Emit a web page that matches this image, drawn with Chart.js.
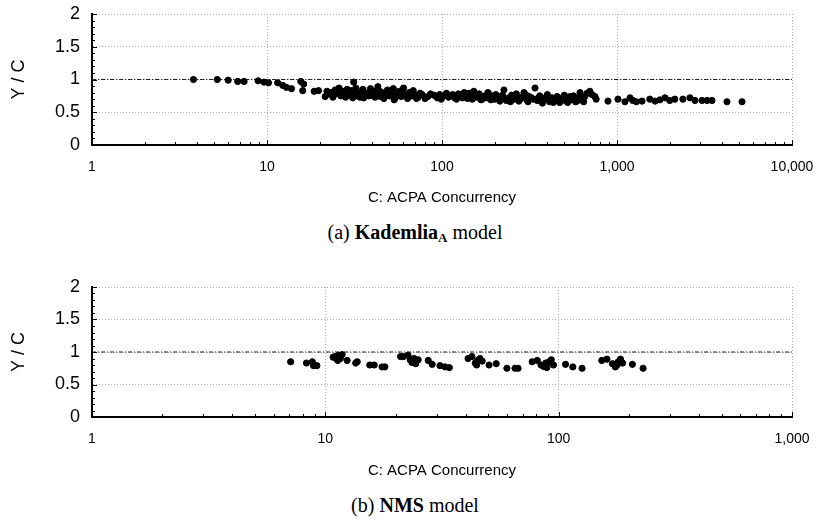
<!DOCTYPE html>
<html>
<head>
<meta charset="utf-8">
<script src="https://cdn.jsdelivr.net/npm/chart.js@4.4.0/dist/chart.umd.min.js"></script>
<style>
  body { margin: 0; background: #fff; width: 824px; height: 529px; position: relative; overflow: hidden; }
  canvas { position: absolute; left: 0; }
  .caption { position: absolute; left: 0; width: 830px; text-align: center; font-family: "Liberation Serif", serif; font-size: 20px; color: #000; }
  .caption sub { font-size: 13px; vertical-align: -3px; }
</style>
</head>
<body>
<div id="wrapA" style="position:absolute;left:0;top:0;width:824px;height:210px"><canvas id="chartA"></canvas></div>
<div class="caption" style="top:221px">(a) <b>Kademlia<sub>A</sub></b> model</div>
<div id="wrapB" style="position:absolute;left:0;top:273px;width:824px;height:210px"><canvas id="chartB"></canvas></div>
<div class="caption" style="top:494px">(b) <b>NMS</b> model</div>
<script>
// Kademlia_A model: concurrency vs Y/C
const kadX = [3.8, 5.2, 6.0, 6.8, 7.4, 8.9, 9.6, 10.2, 11.5, 12.3, 12.9, 13.8, 15.6, 16.2, 16.0, 18.6, 19.7,
  21.5, 22.5, 23.3, 24.0, 24.5, 25.2, 25.8, 26.4, 27.0, 27.6, 28.1, 28.7, 29.2, 29.8, 30.3, 30.9, 31.3, 31.6, 32.2, 32.8,
  33.4, 34.0, 34.6, 35.3, 36.0, 37.5, 39.0, 39.8, 40.6, 41.4, 42.2, 43.0, 44.5, 45.5, 46.5, 47.6, 48.8, 50.0, 51.3, 52.7,
  54.0, 55.5, 57.0, 58.6, 60.3, 61.9, 63.5, 65.0, 66.8, 68.5,
  70, 73, 77, 83, 90, 94, 97, 101, 106, 112, 118, 124, 128, 134, 140, 146, 152, 157, 163, 170, 176, 183, 190, 196, 203,
  210, 218, 226, 233, 241, 250, 258, 266, 275, 285, 294, 305, 315,
  325, 340, 350, 362, 375, 388, 400, 412, 425, 440, 455, 470, 485, 500, 515, 530, 548, 565, 580, 598, 615, 635, 655, 675, 700, 720,
  748, 760, 888, 1013, 1110, 1187, 1230, 1290,
  1390, 1540, 1650, 1760, 1880, 2000, 2140, 2380, 2610, 2790, 3060, 3270, 3490, 4250, 5180,
  22.0, 23.8, 26.0, 28.4, 30.6, 33.0, 35.7, 38.2, 41.0, 44.0, 47.0, 50.6, 53.3, 56.2, 59.4, 64.2, 71.5, 75.0, 80.0, 86.0,
  99, 109, 115, 121, 131, 143, 149, 160, 167, 180, 187, 200, 214, 222, 237, 246, 262, 280, 300, 310, 332, 356, 368, 394,
  418, 433, 447, 463, 478, 508, 522, 540, 572, 590, 625, 645];
const kadY = [1.00, 1.00, 0.99, 0.97, 0.97, 0.98, 0.96, 0.95, 0.95, 0.91, 0.88, 0.86, 0.97, 0.93, 0.83, 0.82, 0.83,
  0.74, 0.78, 0.80, 0.76, 0.84, 0.79, 0.87, 0.75, 0.82, 0.78, 0.73, 0.85, 0.80, 0.76, 0.83, 0.72, 0.96, 0.79, 0.87, 0.75,
  0.81, 0.73, 0.78, 0.85, 0.74, 0.79, 0.86, 0.76, 0.82, 0.73, 0.78, 0.89, 0.74, 0.80, 0.71, 0.77, 0.84, 0.75, 0.79, 0.86,
  0.72, 0.78, 0.82, 0.74, 0.87, 0.77, 0.71, 0.80, 0.75, 0.83,
  0.76, 0.73, 0.77, 0.74, 0.76, 0.72, 0.77, 0.74, 0.79, 0.75, 0.72, 0.78, 0.74, 0.80, 0.71, 0.76, 0.82, 0.73, 0.78, 0.70, 0.75, 0.80, 0.69, 0.73, 0.77,
  0.71, 0.74, 0.84, 0.68, 0.72, 0.76, 0.70, 0.78, 0.67, 0.73, 0.80, 0.69, 0.74,
  0.72, 0.87, 0.68, 0.75, 0.64, 0.70, 0.77, 0.66, 0.72, 0.68, 0.74, 0.65, 0.70, 0.76, 0.67, 0.72, 0.69, 0.75, 0.66, 0.71, 0.80, 0.68, 0.74, 0.79, 0.82, 0.77,
  0.74, 0.70, 0.67, 0.70, 0.66, 0.72, 0.68, 0.66,
  0.67, 0.70, 0.67, 0.69, 0.72, 0.68, 0.70, 0.70, 0.72, 0.68, 0.68, 0.68, 0.68, 0.66, 0.66,
  0.82, 0.73, 0.80, 0.77, 0.81, 0.77, 0.72, 0.75, 0.77, 0.82, 0.74, 0.81, 0.69, 0.76, 0.79, 0.73, 0.71, 0.79, 0.71, 0.78,
  0.70, 0.73, 0.77, 0.70, 0.72, 0.79, 0.70, 0.75, 0.69, 0.72, 0.77, 0.70, 0.67, 0.76, 0.70, 0.66, 0.73, 0.70, 0.77, 0.66, 0.70, 0.72, 0.67, 0.73,
  0.69, 0.65, 0.70, 0.72, 0.67, 0.70, 0.65, 0.74, 0.70, 0.67, 0.73, 0.66];

// NMS model
const nmsX = [7.1, 8.3, 8.8, 8.9, 9.2, 10.8, 11.0, 11.2, 11.4, 11.6, 11.3, 11.8, 12.4, 13.5, 13.7, 15.5, 16.2, 17.5, 18.0,
  21.0, 21.6, 22.6, 23.1, 23.5, 24.0, 24.4, 25.0, 27.6, 28.7, 31.0, 32.6, 34.0,
  40.9, 42.5, 43.9, 45.0, 46.0, 47.0, 44.5, 50.3, 54.0, 60.0, 65.0, 67.0,
  77, 81, 84, 86, 88, 91, 93, 95, 89, 107, 115, 126,
  153, 161, 170, 175, 180, 184, 188, 178, 207, 230];
const nmsY = [0.85, 0.83, 0.85, 0.79, 0.79, 0.92, 0.93, 0.89, 0.95, 0.90, 0.87, 0.96, 0.87, 0.83, 0.85, 0.80, 0.80, 0.77, 0.77,
  0.93, 0.93, 0.95, 0.88, 0.84, 0.90, 0.82, 0.88, 0.87, 0.81, 0.79, 0.77, 0.76,
  0.90, 0.93, 0.83, 0.87, 0.90, 0.86, 0.80, 0.80, 0.82, 0.75, 0.75, 0.75,
  0.85, 0.87, 0.80, 0.78, 0.83, 0.85, 0.88, 0.80, 0.76, 0.81, 0.77, 0.75,
  0.87, 0.89, 0.82, 0.77, 0.85, 0.89, 0.83, 0.80, 0.81, 0.75];

const yTicks = [0, 0.5, 1, 1.5, 2];
const refLevel = 1;

// small inward tick marks along the left and bottom axes
const minorTicks = {
  id: 'minorTicks',
  afterDraw(chart) {
    const ctx = chart.ctx;
    const xs = chart.scales.x, ys = chart.scales.y;
    const area = chart.chartArea;
    ctx.save();
    ctx.strokeStyle = '#000';
    ctx.lineWidth = 1;
    ctx.beginPath();
    for (let d = xs.min; d < xs.max; d *= 10) {
      for (let m = 1; m <= 10; m++) {
        const px = Math.round(xs.getPixelForValue(d * m)) + 0.5;
        const len = (m === 1 || m === 10) ? 5 : 3;
        ctx.moveTo(px, area.bottom);
        ctx.lineTo(px, area.bottom - len);
      }
    }
    for (let v = 0; v <= 2.001; v += 0.1) {
      const py = Math.round(ys.getPixelForValue(v)) + 0.5;
      const len = Math.abs(v * 2 - Math.round(v * 2)) < 0.01 ? 5 : 3;
      ctx.moveTo(area.left, py);
      ctx.lineTo(area.left + len, py);
    }
    ctx.stroke();
    ctx.restore();
  }
};

function makeChart(id, xs, ys, xMax, axisHeight) {
  const points = xs.map((x, i) => ({ x: x, y: ys[i] }));
  return new Chart(document.getElementById(id), {
    type: 'scatter',
    data: {
      datasets: [{
        data: points,
        backgroundColor: '#000',
        borderColor: '#000',
        pointRadius: 3.1,
        pointHoverRadius: 3.1
      }, {
        type: 'line',
        data: [{ x: 1, y: refLevel }, { x: xMax, y: refLevel }],
        borderColor: '#222',
        borderWidth: 1,
        borderDash: [4, 2, 1, 2],
        pointRadius: 0,
        fill: false
      }]
    },
    options: {
      responsive: true,
      maintainAspectRatio: false,
      animation: false,
      events: [],
      layout: { padding: { top: 14, right: 32, left: 0, bottom: 0 } },
      plugins: { legend: { display: false }, tooltip: { enabled: false } },
      scales: {
        x: {
          type: 'logarithmic',
          min: 1,
          max: xMax,
          afterBuildTicks: scale => {
            const t = [];
            for (let v = 1; v <= xMax; v *= 10) t.push({ value: v });
            scale.ticks = t;
          },
          afterFit: scale => { scale.height = axisHeight; scale.paddingRight = 0; scale.paddingLeft = 0; },
          grid: { color: '#aaa', lineWidth: 1, drawTicks: false },
          border: { color: '#000', width: 2, dash: [1, 2] },
          ticks: {
            color: '#000',
            padding: 14,
            maxRotation: 0,
            font: { family: 'Liberation Sans', size: 14 },
            callback: v => Number(v).toLocaleString('en-US')
          },
          title: {
            display: true,
            text: 'C: ACPA Concurrency',
            color: '#000',
            font: { family: 'Liberation Sans', size: 15 },
            padding: { top: 0, bottom: 3 }
          }
        },
        y: {
          min: 0,
          max: 2,
          afterBuildTicks: scale => { scale.ticks = yTicks.map(v => ({ value: v })); },
          afterFit: scale => { scale.width = 92; scale.paddingTop = 0; scale.paddingBottom = 0; },
          grid: { color: '#aaa', lineWidth: 1, drawTicks: false },
          border: { color: '#000', width: 2, dash: [1, 2] },
          ticks: {
            color: '#000',
            padding: 12,
            font: { family: 'Liberation Sans', size: 18 },
            callback: v => String(v)
          },
          title: {
            display: true,
            text: 'Y / C',
            color: '#000',
            font: { family: 'Liberation Sans', size: 18 },
            padding: { top: 8, bottom: 0 }
          }
        }
      }
    },
    plugins: [minorTicks]
  });
}

makeChart('chartA', kadX, kadY, 10000, 65);
makeChart('chartB', nmsX, nmsY, 1000, 66);
</script>
</body>
</html>
